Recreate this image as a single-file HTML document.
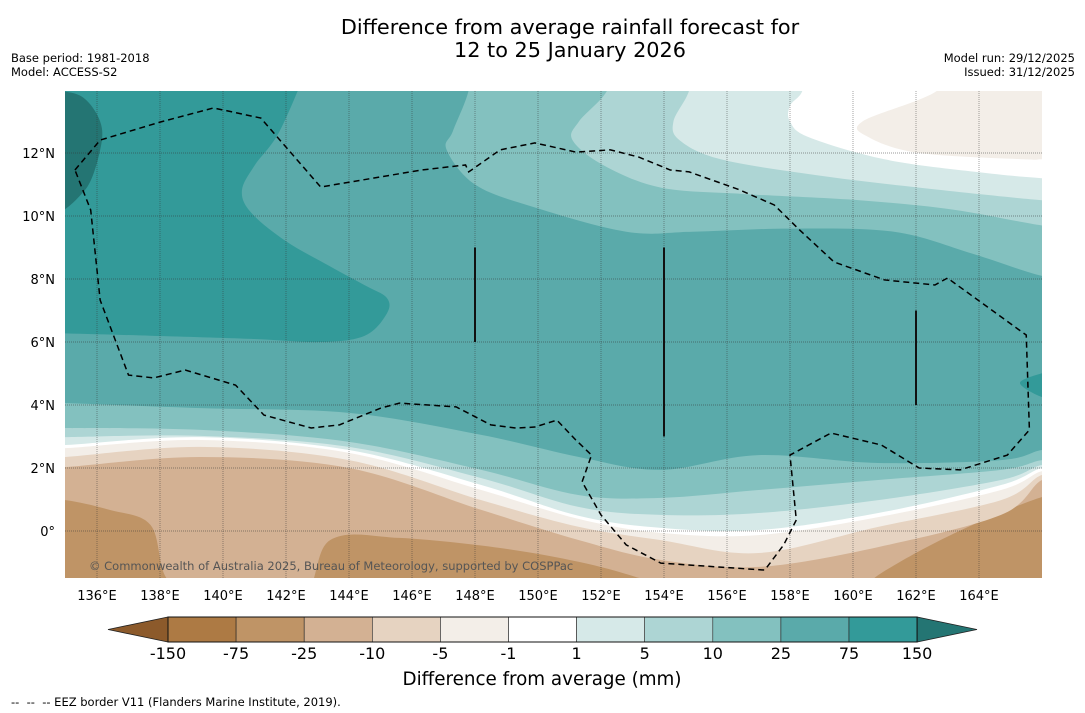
<!DOCTYPE html>
<html><head><meta charset="utf-8">
<style>
body{margin:0;background:#fff;width:1085px;height:713px;overflow:hidden;font-family:"Liberation Sans","DejaVu Sans",sans-serif;}
svg{display:block}
</style></head>
<body>
<svg id="chart" width="1085" height="713" viewBox="0 0 1085 713" xmlns="http://www.w3.org/2000/svg">
<text x="570" y="34" text-anchor="middle" font-size="20.8" font-family="DejaVu Sans, sans-serif">Difference from average rainfall forecast for</text>
<text x="570" y="57" text-anchor="middle" font-size="20.8" font-family="DejaVu Sans, sans-serif">12 to 25 January 2026</text>
<text x="11" y="62" font-size="11.5" font-family="DejaVu Sans, sans-serif">Base period: 1981-2018</text>
<text x="11" y="76" font-size="11.5" font-family="DejaVu Sans, sans-serif">Model: ACCESS-S2</text>
<text x="1075" y="62" text-anchor="end" font-size="11.5" font-family="DejaVu Sans, sans-serif">Model run: 29/12/2025</text>
<text x="1075" y="76" text-anchor="end" font-size="11.5" font-family="DejaVu Sans, sans-serif">Issued: 31/12/2025</text>
<defs><clipPath id="mapclip"><rect x="65" y="91" width="977" height="487"/></clipPath></defs>
<g id="map" clip-path="url(#mapclip)"></g>
<g id="axes"></g>
<g id="cbar"></g>
<text x="542" y="685" text-anchor="middle" font-size="18.3" font-family="DejaVu Sans, sans-serif">Difference from average (mm)</text>
<text x="11" y="706" font-size="11.5" font-family="DejaVu Sans, sans-serif" xml:space="preserve">--  --  -- EEZ border V11 (Flanders Marine Institute, 2019).</text>
</svg>
<script>
// ---- data ----
const colorLevels = ["-150","-75","-25","-10","-5","-1","1","5","10","25","75","150"];
const bandColors = ["#ad7a44","#bf9466","#d3b193","#e6d3c1","#f3eee8","#ffffff","#d6e9e8","#add5d4","#83c1bf","#5aaaaa","#339a99"];
const lowColor = "#8c5a2b", highColor = "#247573";
// southern band boundaries (lat at each lon)
const southLon = [135,139.3,144.0,148.2,151.3,153.9,157.0,160.8,164.7,166];
const b1Lat = [4.06,3.90,3.75,3.05,2.35,1.94,2.41,2.16,2.25,2.57]; // 25 contour
const b2Lat = [3.27,3.21,2.83,1.94,1.14,1.05,1.30,1.62,1.94,2.25]; // 10
const b3Lat = [2.98,3.02,2.67,1.68,0.76,0.51,0.57,0.98,1.62,2.10]; // 5
const b4Lat = [2.73,2.98,2.57,1.46,0.48,0.10,0.03,0.57,1.46,2.00]; // 1
const b5Lat = [2.63,2.89,2.48,1.30,0.38,-0.06,-0.13,0.44,1.30,1.90]; // -1
const b6Lat = [2.35,2.67,2.25,0.98,0.13,-0.29,-0.70,0.13,0.98,1.78]; // -5
const b7Lat = [2.03,2.35,2.00,0.67,-0.29,-0.92,-1.14,-0.51,0.51,1.62]; // -10
const b8Lon = [135,136.4,137.7,138.2,139.3,142.4,143.4,145.6,148.8,151.3,153.2,155.1,159.9,160.8,163.1,166];
const b8Lat = [0.98,0.67,0.19,-1.49,-2.19,-2.19,-0.29,-0.22,-0.54,-0.98,-1.49,-2.19,-2.19,-1.40,-0.13,1.08]; // -25
// northern contours
const n10Lon=[147.8,147.3,147.1,148.0,149.8,152.8,154.9,158.0,161.3,163.8,166];
const n10Lat=[14.0,12.7,12.1,11.0,10.3,9.5,9.5,9.6,9.5,8.8,8.1];
const n5Lon=[152.2,151.3,151.1,152.1,153.9,156.5,160.2,163.2,166];
const n5Lat=[14.0,13.0,12.4,11.6,10.9,10.7,10.5,10.2,9.7];
const n1Lon=[154.8,154.3,154.5,155.8,158.8,162.1,166];
const n1Lat=[14.0,13.0,12.4,11.8,11.3,10.9,10.5];
const nm1Lon=[158.4,158.0,158.0,158.6,161.0,163.9,166];
const nm1Lat=[14.0,13.5,13.0,12.5,11.8,11.4,11.2];
const nm5Lon=[162.7,160.3,160.5,162.1,165.4,166];
const nm5Lat=[14.0,13.0,12.5,12.0,11.8,11.8];
// high anomaly (>75) region in the north-west
const h75Lon=[135,142.8,141.8,141.0,140.6,140.9,142.0,143.4,144.5,145.2,145.2,144.5,143.1,140.9,137.7,135];
const h75Lat=[14.0,14.0,12.7,11.6,10.8,10.1,9.2,8.4,7.8,7.4,6.9,6.2,6.0,6.1,6.2,6.3];
const h150Lon=[134.5,135.5,136.1,136.1,135.6,134.5];
const h150Lat=[14.0,13.8,13.0,12.1,10.8,10.3];
const e75Lon=[166.3,165.3,166.3]; const e75Lat=[5.1,4.7,4.2];
// EEZ border
const eezLon=[135.3,136.1,138.0,139.7,141.2,143.1,146.3,147.7,147.8,148.8,149.9,151.2,152.3,153.2,154.2,154.8,156.4,157.5,158.3,159.4,161.0,162.6,163.0,165.5,165.6,164.9,163.4,162.1,160.9,159.3,158.0,158.2,157.8,157.2,153.9,152.8,152.0,151.4,151.7,151.2,150.6,149.9,149.3,148.5,147.4,145.6,145.0,143.7,142.8,141.3,140.4,138.8,137.8,137.0,136.1,135.8,135.3];
const eezLat=[11.46,12.41,12.98,13.43,13.11,10.92,11.46,11.62,11.40,12.10,12.32,12.03,12.10,11.87,11.46,11.40,10.83,10.35,9.56,8.54,7.97,7.81,8.03,6.22,3.21,2.41,1.94,2.00,2.73,3.11,2.41,0.35,-0.44,-1.24,-1.02,-0.44,0.51,1.56,2.41,2.89,3.52,3.30,3.27,3.37,3.94,4.06,3.90,3.37,3.27,3.68,4.63,5.11,4.86,4.95,7.33,10.19,11.46];
const lonTicks=[136,138,140,142,144,146,148,150,152,154,156,158,160,162,164];
const latTicks=[0,2,4,6,8,10,12];
const latTickLabels=["0°","2°N","4°N","6°N","8°N","10°N","12°N"];
const boundaryLines=[[148,6,9],[154,3,9],[162,4,7]]; // lon, lat from, lat to

// ---- axes functions ----
const X=lon=>65.5+(lon-135)*31.5;
const Y=lat=>531-lat*31.5;
const NS="http://www.w3.org/2000/svg";
const map=document.getElementById('map'), axes=document.getElementById('axes'), cbar=document.getElementById('cbar');
function mk(tag,attrs,parent){const e=document.createElementNS(NS,tag);for(const k in attrs)e.setAttribute(k,attrs[k]);parent.appendChild(e);return e;}
function smooth(pts){ // catmull-rom
  let d=`M${pts[0][0]},${pts[0][1]}`;
  for(let i=0;i<pts.length-1;i++){
    const p0=pts[Math.max(0,i-1)],p1=pts[i],p2=pts[i+1],p3=pts[Math.min(pts.length-1,i+2)];
    d+=` C${p1[0]+(p2[0]-p0[0])/6},${p1[1]+(p2[1]-p0[1])/6} ${p2[0]-(p3[0]-p1[0])/6},${p2[1]-(p3[1]-p1[1])/6} ${p2[0]},${p2[1]}`;
  }
  return d;
}
function pts(lons,lats){return lons.map((l,i)=>[X(l),Y(lats[i])]);}

const bg=mk('rect',{x:65,y:91,width:977,height:487,fill:bandColors[1]},map);


function above(lons,lats,color,name){
  const p=pts(lons,lats);
  p.unshift([X(134),p[0][1]]); p.push([X(167),p[p.length-1][1]]);
  const d=smooth(p)+` L${X(167)},${Y(15)} L${X(134)},${Y(15)} Z`;
  const e=mk('path',{d:d,fill:color},map);
  
  
}
above(b8Lon,b8Lat,bandColors[2],'band-minus25-minus10');
above(southLon,b7Lat,bandColors[3],'band-minus10-minus5');
above(southLon,b6Lat,bandColors[4],'band-minus5-minus1');
above(southLon,b5Lat,bandColors[5],'band-minus1-1');
above(southLon,b4Lat,bandColors[6],'band-1-5');
above(southLon,b3Lat,bandColors[7],'band-5-10');
above(southLon,b2Lat,bandColors[8],'band-10-25');
above(southLon,b1Lat,bandColors[9],'band-25-75');
function region(lons,lats,color,name,closeTopRight){
  const p=pts(lons,lats);
  let d;
  if(closeTopRight){
    p.unshift([p[0][0],Y(15)]); p.push([X(167),p[p.length-1][1]]);
    d=smooth(p)+` L${X(167)},${Y(15)} Z`;
  } else d=smooth(p.concat([p[0]]))+' Z';
  const e=mk('path',{d:d,fill:color},map);
  
  
}
region(n10Lon,n10Lat,bandColors[8],'north-band-10-25',true);
region(n5Lon,n5Lat,bandColors[7],'north-band-5-10',true);
region(n1Lon,n1Lat,bandColors[6],'north-band-1-5',true);
region(nm1Lon,nm1Lat,bandColors[5],'north-band-minus1-1',true);
region(nm5Lon,nm5Lat,bandColors[4],'north-band-minus5-minus1',true);
(function(){const p=pts(h75Lon,h75Lat);p[0]=[X(134),Y(15)];p[1]=[X(142.8),Y(15)];p[p.length-1]=[X(134),Y(6.3)];
  const e=mk('path',{d:`M${X(134)},${Y(15)} L${X(142.8)},${Y(15)} `+smooth(p.slice(1)).replace(/^M/,'L')+' Z',fill:bandColors[10]},map);
  
  })();
region(h150Lon,h150Lat,highColor,'region-above-150',false);
region(e75Lon,e75Lat,bandColors[10],'region-75-150-east',false);

// gridlines
lonTicks.forEach(l=>{const e=mk('line',{x1:X(l),x2:X(l),y1:91,y2:578,stroke:'#333','stroke-opacity':0.45,'stroke-width':1,'stroke-dasharray':'1,1'},map);
  
  });
latTicks.forEach(l=>{const e=mk('line',{x1:65,x2:1042,y1:Y(l),y2:Y(l),stroke:'#333','stroke-opacity':0.5,'stroke-width':1,'stroke-dasharray':'1,1'},map);
  
  });
boundaryLines.forEach(b=>{const e=mk('line',{x1:X(b[0]),x2:X(b[0]),y1:Y(b[2]),y2:Y(b[1]),stroke:'#111','stroke-width':2},map);
  
  });
(function(){const p=pts(eezLon,eezLat);
  const e=mk('path',{d:'M'+p.map(q=>q.join(',')).join(' L'),fill:'none',stroke:'#000','stroke-width':1.5,'stroke-dasharray':'6,4'},map);
  
  })();
(function(){const t=mk('text',{x:89,y:570,'font-size':11.5,fill:'#555','font-family':'DejaVu Sans, sans-serif'},map);t.textContent='© Commonwealth of Australia 2025, Bureau of Meteorology, supported by COSPPac';
  
  })();

// tick labels
lonTicks.forEach(l=>{if(l>165)return;const t=mk('text',{x:X(l),y:600,'text-anchor':'middle','font-size':13,'font-family':'DejaVu Sans, sans-serif'},axes);t.textContent=l+'°E';
  
  });
latTicks.forEach((l,i)=>{const t=mk('text',{x:55,y:Y(l)+5,'text-anchor':'end','font-size':13,'font-family':'DejaVu Sans, sans-serif'},axes);t.textContent=latTickLabels[i];
  
  });

// colorbar
const cx0=168, cw=68.1, cy=617, ch=25;
bandColors.forEach((c,i)=>{const r=mk('rect',{x:cx0+i*cw,y:cy,width:cw,height:ch,fill:c,stroke:'#222','stroke-width':0.6},cbar);
  
  });
(function(){const a=mk('polygon',{points:`${cx0},${cy} ${cx0},${cy+ch} 108,${cy+ch/2}`,fill:lowColor,stroke:'#222','stroke-width':0.8},cbar);
  
  
  const xe=cx0+bandColors.length*cw;
  const b=mk('polygon',{points:`${xe},${cy} ${xe},${cy+ch} 977,${cy+ch/2}`,fill:highColor,stroke:'#222','stroke-width':0.8},cbar);
  
  
  mk('rect',{x:cx0,y:cy,width:xe-cx0,height:ch,fill:'none',stroke:'#111','stroke-width':1},cbar);})();
colorLevels.forEach((lv,i)=>{const t=mk('text',{x:cx0+i*cw,y:659,'text-anchor':'middle','font-size':16,'font-family':'DejaVu Sans, sans-serif'},cbar);t.textContent=lv;
  
  });
</script>
</body></html>
